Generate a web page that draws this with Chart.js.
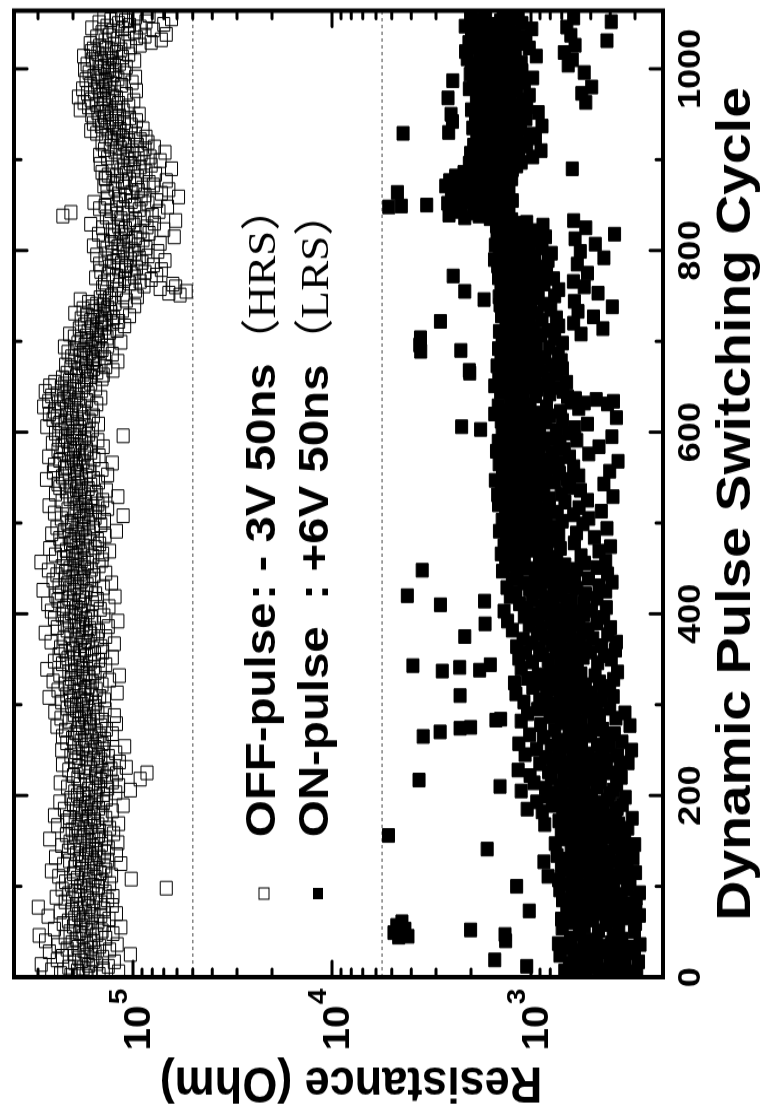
<!DOCTYPE html>
<html>
<head>
<meta charset="utf-8">
<script src="https://cdn.jsdelivr.net/npm/chart.js@4.4.0/dist/chart.umd.min.js"></script>
<style>
  html, body { margin: 0; padding: 0; background: #fff; overflow: hidden; }
  /* chart is drawn upright, then stretched a little and turned a quarter turn like the figure */
  #wrap { position: absolute; left: 0; top: 0; width: 987px; height: 763px;
          transform-origin: 0 0; transform: translateY(1115px) rotate(-90deg) scaleX(1.1297); }
</style>
</head>
<body>
<div id="wrap"><canvas id="chart" width="987" height="763"></canvas></div>
<script>
// HRS (OFF state) resistance, kOhm, one value per cycle starting at cycle 1
const hrsKOhm = [
  172,205,148,231,163,118,190,256,141,178,210,133,167,289,152,196,124,181,240,159,
  187,142,226,170,103,198,155,263,176,131,214,162,189,147,238,120,171,202,158,275,
  164,193,137,219,178,296,152,126,185,207,143,171,248,160,115,199,182,139,224,168,
  150,211,178,132,196,162,267,145,188,121,173,232,157,203,140,184,299,166,127,192,
  176,145,219,158,134,201,169,243,126,187,152,210,164,138,195,171,227,68,149,183,
  159,204,131,176,218,143,167,102,190,155,236,128,172,199,146,163,257,137,181,152,
  196,140,168,223,115,179,157,208,134,186,162,245,148,173,121,192,165,139,211,154,
  171,133,198,160,228,144,185,119,207,166,152,262,137,178,194,149,216,125,183,161,
  147,202,176,131,189,163,239,150,118,195,172,214,156,182,137,208,167,248,143,179,
  158,193,127,174,221,149,186,162,112,199,170,141,233,155,184,136,205,167,152,190,
  141,178,122,196,155,103,167,134,213,149,118,184,160,232,127,171,145,92,189,152,
  136,199,154,121,85,176,143,210,129,163,108,187,151,226,133,168,117,195,145,172,
  158,187,133,205,149,171,122,193,164,228,140,179,155,110,197,168,143,215,151,182,
  174,139,201,162,226,148,185,127,193,170,153,218,136,179,164,241,145,188,121,172,
  165,209,143,186,230,158,175,124,197,181,150,247,166,192,138,214,171,155,203,180,
  192,154,228,171,139,206,183,264,147,176,215,162,120,198,187,238,153,174,209,168,
  185,143,219,196,160,252,131,177,204,166,189,117,233,172,155,210,194,146,271,180,
  158,203,178,137,226,190,164,248,149,183,212,127,197,171,235,156,186,142,219,175,
  199,160,231,145,184,207,124,176,258,168,193,151,222,180,137,205,189,163,276,172,
  149,214,186,165,240,133,197,178,221,156,188,119,209,173,248,162,195,140,227,183,
  204,168,257,181,146,223,193,132,215,176,268,160,199,187,238,151,210,179,123,244,
  186,154,229,197,172,283,161,208,141,191,235,170,213,128,196,182,252,165,219,177,
  200,157,241,184,137,218,193,266,162,207,175,227,148,189,214,169,290,182,143,198,
  176,223,159,191,245,142,201,184,131,216,170,262,155,193,178,230,147,206,187,164,
  198,151,233,173,209,138,187,256,166,195,121,220,180,158,241,176,203,145,189,214,
  167,204,139,182,229,155,176,112,197,163,248,147,185,171,212,134,193,159,264,178,
  150,191,173,227,142,186,207,161,119,198,175,245,153,183,216,136,192,168,233,181,
  205,163,238,187,149,219,196,272,158,181,226,172,134,209,190,251,166,197,143,221,
  183,214,169,248,192,127,204,178,233,157,199,186,265,148,211,175,222,163,195,238,
  171,206,189,141,227,198,162,254,181,213,150,236,193,175,218,112,201,167,245,186,
  196,228,160,212,185,271,174,207,149,233,190,219,166,252,201,178,240,158,214,263,
  205,176,248,192,229,161,216,281,184,203,152,237,197,265,171,222,188,145,210,256,
  193,239,168,214,276,181,207,154,229,196,262,175,220,163,247,187,208,171,143,226,
  163,192,141,178,214,152,169,126,187,158,205,137,173,218,148,182,160,119,196,155,
  171,139,203,158,184,127,166,212,150,177,143,196,162,221,134,174,155,189,115,168,
  149,182,160,135,197,171,144,208,153,131,168,120,152,186,139,161,110,175,143,127,
  144,118,163,137,182,125,151,104,170,139,196,129,157,113,146,178,134,160,98,141,
  152,123,167,139,108,184,131,146,95,128,58,112,66,136,54,97,121,73,142,61,
  88,117,63,104,139,92,126,81,110,154,98,121,76,133,102,87,145,109,72,118,
  96,131,108,79,147,114,90,125,69,103,138,93,118,84,152,107,98,127,75,112,
  101,135,86,119,158,94,112,73,128,105,141,89,116,97,62,124,108,149,83,114,
  92,127,70,109,142,85,118,99,163,78,104,131,61,97,115,88,136,225,80,120,
  106,205,74,129,93,147,112,67,138,98,121,84,157,102,76,116,91,134,59,109,
  87,118,72,101,135,94,66,123,89,110,140,79,97,126,83,113,68,104,137,138,
  95,121,133,77,108,143,86,115,99,64,127,92,111,81,146,103,88,119,73,106,
  98,134,82,112,147,91,107,69,123,101,139,87,116,78,130,95,110,143,84,120,
  105,92,128,113,86,137,118,97,152,124,108,163,116,89,135,121,144,102,127,158,
  111,131,96,148,122,104,139,117,161,93,128,150,136,112,184,143,122,167,105,138,
  152,118,176,131,99,162,140,121,188,127,145,108,169,133,156,96,141,179,124,150,
  137,114,163,129,101,151,138,172,119,143,97,157,126,148,110,166,134,122,175,131,
  146,108,139,124,170,117,153,132,98,160,127,144,113,177,135,105,150,121,162,128,
  115,158,136,103,147,92,124,164,81,110,138,72,119,96,152,87,131,68,106,143,
  98,126,79,113,161,92,135,104,70,118,148,86,109,129,64,121,97,140,83,114
];

// LRS (ON state) resistance, Ohm, one value per cycle starting at cycle 1
const lrsOhm = [
  452,318,610,389,527,294,676,421,355,583,470,1050,336,497,402,641,288,545,1520,378,
  603,341,466,715,392,527,302,438,580,361,489,650,316,412,546,283,728,395,470,1340,
  512,349,633,4620,4150,386,1350,571,4880,302,458,2010,4300,697,362,540,4720,419,298,612,
  4450,365,489,702,331,556,407,285,634,448,376,519,1020,297,468,589,342,660,403,521,
  311,577,436,352,694,482,296,538,410,621,365,455,285,590,394,716,328,503,427,1180,
  542,384,661,447,318,589,726,402,505,341,820,463,377,615,298,532,438,684,351,574,
  415,703,482,329,596,458,861,372,521,646,307,490,408,739,553,346,612,429,315,571,
  1660,468,377,628,512,301,755,444,583,359,497,672,338,421,546,5200,395,618,476,352,
  704,431,568,326,489,637,405,852,363,517,456,723,382,598,310,541,668,427,496,375,
  612,878,437,554,1045,369,692,503,781,348,620,456,935,529,412,718,584,336,826,497,
  653,402,760,548,1120,386,597,844,465,1430,712,371,536,965,448,627,3650,509,790,352,
  574,1010,462,683,391,815,527,1160,430,642,356,746,588,478,902,325,669,541,418,773,
  496,842,613,367,1070,521,719,438,605,312,936,557,684,402,791,463,1150,574,349,650,
  727,419,588,866,3480,502,1015,381,643,2860,545,759,436,2270,2010,612,318,894,487,703,
  561,1120,1500,1420,374,666,802,453,596,1040,337,728,514,651,925,402,577,845,468,694,
  786,521,1085,617,443,902,569,714,386,2270,658,1190,497,832,605,431,746,568,978,402,
  688,533,865,1210,452,629,761,384,1045,596,712,476,918,561,803,367,2790,1810,640,1120,
  2280,585,3920,1600,710,462,983,634,819,395,1150,547,696,428,872,611,1065,503,748,376,
  657,904,532,1180,441,779,615,986,372,720,568,1095,489,843,2150,637,411,928,553,766,
  684,1240,517,882,398,753,1020,620,1700,466,795,1310,574,918,687,431,1080,759,545,962,
  812,604,1365,497,730,1050,418,880,659,2850,1140,542,776,1710,623,985,466,848,1270,4180,
  707,532,1190,894,421,768,1015,588,1320,672,455,931,745,1085,391,820,603,1240,514,866,
  951,648,1175,412,836,726,1390,3520,589,1030,465,792,1250,676,902,538,1110,421,760,1340,
  1080,742,1290,560,905,1410,830,1150,455,976,1230,712,1050,398,1365,868,1120,605,940,1275,
  789,1180,1015,480,1330,892,725,1210,590,1080,1440,836,963,415,1160,754,1305,1020,548,877,
  1120,697,1395,935,512,1065,840,1270,610,985,1185,738,443,1340,901,1030,573,1225,810,1455,
  948,1160,675,1360,520,1040,810,1235,387,920,1470,705,1095,862,1305,564,997,1180,640,1410,
  875,1125,430,1280,760,995,1510,655,1065,842,1215,575,935,1390,718,1150,402,1020,1330,796,
  1090,610,1270,885,1445,730,968,365,1185,820,1050,1375,640,915,1230,512,1105,780,1490,955,
  680,1210,1035,455,1340,862,1120,715,980,1460,588,1265,820,1075,392,1190,905,1395,650,1030,
  1165,745,1790,1320,602,2230,960,1245,520,1080,842,1410,695,1135,978,372,1285,806,1060,1520,
  890,1215,710,1355,1010,575,1180,835,1460,1045,412,540,628,385,1270,470,598,1125,655,950,
  1230,805,1095,1420,690,1160,930,1340,760,1075,1520,855,1205,985,662,1290,1040,1450,815,1130,
  960,1385,1170,745,2030,1260,880,2040,1115,695,1330,1010,1480,780,1195,925,1365,1050,705,1245,
  1090,855,1415,1200,972,730,1310,1125,3580,2250,1025,1455,810,1165,940,3620,1280,695,1070,1390,
  985,1230,760,3590,1120,1395,890,560,1170,1040,1440,815,1260,435,975,1335,725,1105,1200,610,
  1055,2850,880,1310,1180,745,485,1405,1020,1245,930,1370,580,1110,795,1290,1000,390,1195,1430,
  860,1150,1335,605,1065,1720,1280,920,1445,760,1190,1015,460,1360,2150,1085,725,1260,980,540,
  1235,1415,860,1130,990,612,1310,1070,770,1455,1180,2460,905,1290,520,1045,1380,835,1160,1020,
  1290,905,1470,1120,585,1350,1010,1215,820,1525,1075,430,1265,960,1400,1145,790,1330,565,1190,
  1060,1445,880,1280,1165,1510,475,1020,1375,930,1240,1105,600,1480,845,1315,1190,380,1025,1420,
  1210,960,1390,1100,530,1275,1490,870,1335,1175,1050,1420,610,1250,1600,2150,1380,1820,2580,1540,
  1950,1290,2400,1700,1480,2250,1360,5180,4480,3340,1820,2620,1530,2080,1240,1910,2450,1640,1390,2180,
  1780,2510,1460,4690,2030,1620,1290,2330,1860,1540,2680,1350,1970,1700,2200,1420,2560,1810,1250,2090,
  1650,2390,1520,1900,1330,2170,1460,1780,1240,620,1560,1960,1180,1710,1390,2040,1120,1620,1450,1850,
  1280,1530,980,1760,1390,1150,2010,1270,1640,890,1460,1830,1210,1590,1050,1940,1340,1100,1720,1420,
  1180,1660,1350,950,1870,1240,1570,1010,4390,2590,1400,1780,1130,1490,1960,1320,880,1630,1210,1850,
  1440,2480,1260,1590,1060,1900,1370,1140,1720,2520,1310,920,1680,1480,1990,1220,1540,1050,1790,1360,
  1150,1620,530,1390,1880,1090,1510,2610,1270,1740,1020,1450,555,1830,1320,1600,1180,2040,1410,495,
  1690,1240,1950,1370,1080,1550,2470,1290,1820,980,1460,1630,1190,2020,1350,540,1570,1110,1760,1420,
  1260,1880,1530,650,1990,1340,1120,1710,1480,620,2090,1250,1640,940,1810,1390,1570,680,2130,1200,
  1450,1700,1020,1930,1330,600,1610,1140,2050,1480,415,1270,1860,1390,1060,1740,630,1550,1990,1210,
  1620,1300,1880,990,1470,660,2140,1350,1560,1110,1780,395,1420,1930,1240,610,1690,1380,2010,1160
];

const cycleTicks = [0, 200, 400, 600, 800, 1000];
const cycleMinorTicks = [100, 300, 500, 700, 900];
const decadeTicks = [1e3, 1e4, 1e5];
const decadeExponents = ['3', '4', '5'];
const refLines = [5e4, 5.6e3];          // dotted guide lines
const legendNames = ['OFF-pulse', 'ON-pulse'];
const legendPulses = ['- 3V 50ns', '+6V 50ns'];
const legendStates = ['（HRS）', '（LRS）'];

const CYCLE_MAX = 1064;
const RES_MIN = 217, RES_MAX = 3.96e5;
const SANS = '"Liberation Sans", Arial, sans-serif';

const hrsPoints = hrsKOhm.map((v, i) => ({ x: i + 1, y: v * 1000 }));
const lrsPoints = lrsOhm.map((v, i) => ({ x: i + 1, y: v }));

function seg(ctx, x1, y1, x2, y2) {
  ctx.beginPath();
  ctx.moveTo(x1, y1);
  ctx.lineTo(x2, y2);
  ctx.stroke();
}

// frame, inward ticks, power-of-ten labels, titles and legend
const decor = {
  id: 'decor',
  afterDatasetsDraw(chart) {
    const { ctx, chartArea: a, scales: { x, y } } = chart;
    ctx.save();
    ctx.strokeStyle = '#000';
    ctx.fillStyle = '#000';
    ctx.lineCap = 'round';
    ctx.lineWidth = 3;

    cycleTicks.concat(cycleMinorTicks).forEach(v => {
      const px = x.getPixelForValue(v);
      const len = cycleTicks.includes(v) ? 13 : 7;
      seg(ctx, px, a.bottom, px, a.bottom - len);
      seg(ctx, px, a.top, px, a.top + len);
    });

    for (let d = 100; d <= 1e6; d *= 10) {
      for (let m = 1; m < 10; m++) {
        const v = d * m;
        if (v < RES_MIN || v > RES_MAX) continue;
        const py = y.getPixelForValue(v);
        const len = m === 1 ? 14 : 7;
        seg(ctx, a.left, py, a.left + len, py);
        seg(ctx, a.right, py, a.right - len, py);
      }
    }

    ctx.lineWidth = 4;
    ctx.lineCap = 'butt';
    ctx.strokeRect(a.left, a.top, a.right - a.left, a.bottom - a.top);

    // 10^n labels
    decadeTicks.forEach((v, i) => {
      const py = y.getPixelForValue(v);
      ctx.textAlign = 'right';
      ctx.textBaseline = 'alphabetic';
      ctx.font = 'bold 36px ' + SANS;
      ctx.fillText('10', 97, py + 17);
      ctx.textAlign = 'left';
      ctx.font = 'bold 25px ' + SANS;
      ctx.fillText(decadeExponents[i], 98, py - 6);
    });

    // axis titles
    ctx.textAlign = 'center';
    ctx.textBaseline = 'alphabetic';
    ctx.font = 'bold 49px ' + SANS;
    ctx.fillText('Dynamic Pulse Switching Cycle', 541, 750);

    ctx.save();
    ctx.translate(42, 351);
    ctx.rotate(-Math.PI / 2);
    ctx.font = 'bold 45px ' + SANS;
    ctx.fillText('Resistance (Ohm)', 0, 0);
    ctx.restore();

    // legend
    const rowsY = [275, 328];
    const markY = [264, 318];
    ctx.textAlign = 'left';
    rowsY.forEach((by, i) => {
      ctx.lineWidth = 1;
      if (i === 0) ctx.strokeRect(191, markY[i] - 5, 10, 10);
      else ctx.fillRect(191, markY[i] - 5, 10, 10);
      ctx.font = 'bold 42px ' + SANS;
      ctx.fillText(legendNames[i], 246, by);
      ctx.fillText(':', 456, by);
      ctx.fillText(legendPulses[i], 481, by);
      ctx.font = '40px "Liberation Serif", "Noto Sans CJK SC", serif';
      ctx.fillText(legendStates[i], 665, by);
    });
    ctx.restore();
  }
};

new Chart(document.getElementById('chart'), {
  type: 'scatter',
  data: {
    datasets: [
      { label: 'OFF-pulse', data: hrsPoints, pointStyle: 'rect', pointRadius: 8.5,
        borderWidth: 1, borderColor: '#000', backgroundColor: 'rgba(255,255,255,0)', clip: 0 },
      { label: 'ON-pulse', data: lrsPoints, pointStyle: 'rect', pointRadius: 8.5,
        borderWidth: 1, borderColor: '#000', backgroundColor: '#000', clip: 0 }
    ].concat(refLines.map(v => ({
      type: 'line', data: [{ x: 0, y: v }, { x: CYCLE_MAX, y: v }],
      borderColor: '#444', borderWidth: 1, borderDash: [3, 3], pointRadius: 0, clip: 0
    })))
  },
  options: {
    responsive: false,
    animation: false,
    events: [],
    layout: { padding: { top: 14, right: 8, left: 0, bottom: 0 } },
    plugins: { legend: { display: false }, tooltip: { enabled: false } },
    scales: {
      x: {
        type: 'linear', min: 0, max: CYCLE_MAX,
        afterFit(s) { s.height = 100; },
        afterBuildTicks(s) { s.ticks = cycleTicks.map(v => ({ value: v })); },
        grid: { display: false, drawTicks: false },
        border: { display: false },
        ticks: { color: '#000', padding: 9, maxRotation: 0, autoSkip: false,
                 callback: v => String(v),
                 font: { family: SANS, size: 32, weight: 'bold' } }
      },
      y: {
        type: 'logarithmic', min: RES_MIN, max: RES_MAX,
        afterFit(s) { s.width = 122; },
        grid: { display: false, drawTicks: false },
        border: { display: false },
        ticks: { display: false }
      }
    }
  },
  plugins: [decor]
});
</script>
</body>
</html>
